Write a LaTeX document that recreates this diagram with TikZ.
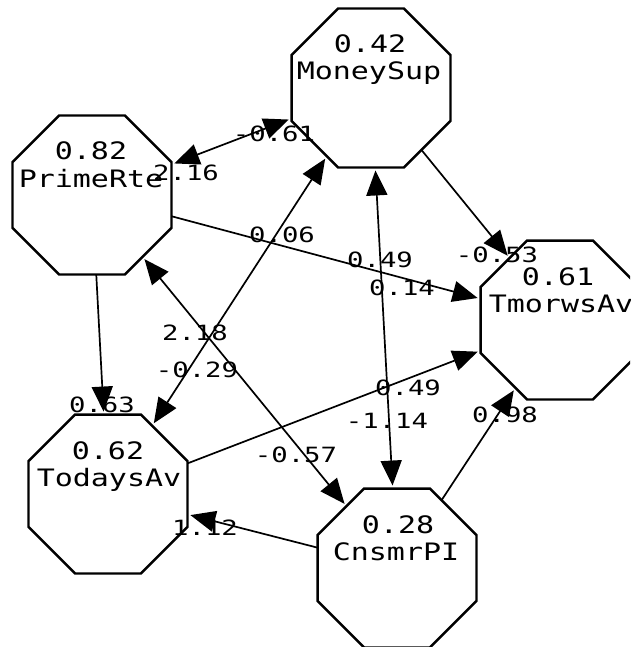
\documentclass[tikz,border=0pt]{standalone}
\usepackage{fontspec}
\newfontfamily\nodefont[FakeStretch=1.25]{DejaVu Sans Mono}
\newfontfamily\edgefont[FakeStretch=1.3]{DejaVu Sans Mono}
\usetikzlibrary{shapes.geometric,arrows.meta}
\begin{document}
\begin{tikzpicture}[x=1pt,y=-1pt,
  oct/.style={regular polygon, regular polygon sides=8, minimum size=172pt,
    inner sep=0pt, outer sep=0pt, draw, line width=2.4pt},
  valtxt/.style={font=\nodefont\fontsize{24}{24}\selectfont, inner sep=0pt, anchor=base},
  edgetxt/.style={font=\edgefont\fontsize{21}{21}\selectfont, inner sep=0pt, anchor=base},
  arc/.style={line width=1.7pt, -{Triangle[length=25pt,width=21pt]}, shorten >=3pt},
  biarc/.style={line width=1.7pt, {Triangle[length=25pt,width=21pt]}-{Triangle[length=25pt,width=21pt]},
    shorten >=3pt, shorten <=3pt}]
\useasboundingbox (0,0) rectangle (630,647);
\clip (0,0) rectangle (630,647);
\fill[white] (0,0) rectangle (630,647);

% octagons
\node[oct] (ms) at (371,88) {};
\node[oct] (pr) at (92,195) {};
\node[oct] (tm) at (560,320) {};
\node[oct] (td) at (108,494) {};
\node[oct] (cp) at (397,568) {};

% node texts
\node[valtxt] (msv) at (370,53) {0.42};
\node[valtxt] (msn) at (369,80) {MoneySup};
\node[valtxt] (prv) at (91,160) {0.82};
\node[valtxt] (prn) at (91,187) {PrimeRte};
\node[valtxt] (tmv) at (558,285) {0.61};
\node[valtxt] (tmn) at (561,312) {TmorwsAv};
\node[valtxt] (tdv) at (108,459) {0.62};
\node[valtxt] (tdn) at (109,486) {TodaysAv};
\node[valtxt] (cpv) at (398,533) {0.28};
\node[valtxt] (cpn) at (396,560) {CnsmrPI};

% connectors
\draw[biarc] (pr) -- (ms);
\draw[arc] (pr) -- (tm);
\draw[arc] (ms) -- (tm);
\draw[biarc] (ms) -- (cp);
\draw[arc] (pr) -- (td);
\draw[biarc] (td) -- (ms);
\draw[biarc] (pr) -- (cp);
\draw[arc] (td) -- (tm);
\draw[arc] (cp) -- (tm);
\draw[arc] (cp) -- (td);

% edge labels
\node[edgetxt] (l1) at (186,180) {2.16};
\node[edgetxt] (l2) at (274,142) {-0.61};
\node[edgetxt] (l3) at (282,242) {0.06};
\node[edgetxt] (l4) at (380,267) {0.49};
\node[edgetxt] (l5) at (402,295) {0.14};
\node[edgetxt] (l6) at (497,262) {-0.53};
\node[edgetxt] (l7) at (195,340) {2.18};
\node[edgetxt] (l8) at (197,377) {-0.29};
\node[edgetxt] (l9) at (102,412) {0.63};
\node[edgetxt] (l10) at (408,395) {0.49};
\node[edgetxt] (l11) at (387,428) {-1.14};
\node[edgetxt] (l12) at (505,422) {0.98};
\node[edgetxt] (l13) at (296,462) {-0.57};
\node[edgetxt] (l14) at (205,535) {1.12};
\end{tikzpicture}
\end{document}
